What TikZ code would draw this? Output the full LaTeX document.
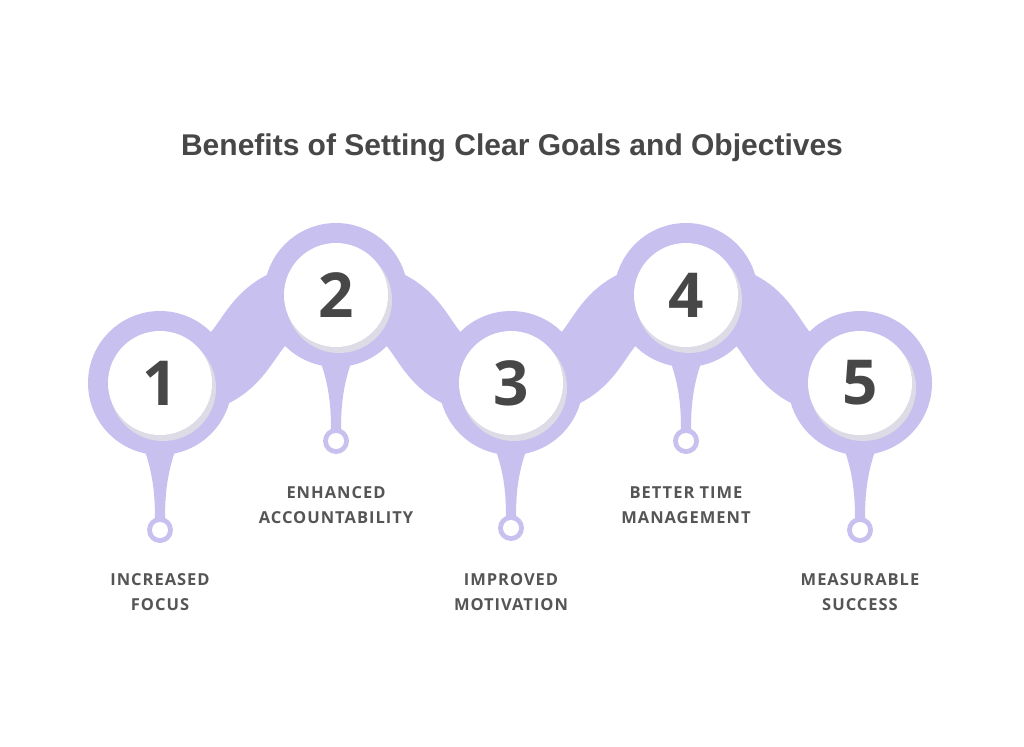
\documentclass[tikz,border=0pt]{standalone}
\usepackage{fontspec}
\setmainfont{Open Sans}[LetterSpace=6]
\newfontfamily\titlefont{Liberation Sans}
\begin{document}
\begin{tikzpicture}[x=1pt,y=-1pt,
  lbl/.style={text=labc,font=\fontsize{16.5}{25}\selectfont\bfseries,align=center,anchor=center},
  num/.style={text=numc,font=\fontsize{62}{62}\selectfont\bfseries}]
\definecolor{bandc}{HTML}{C8C1F0}
\definecolor{labc}{HTML}{555555}
\definecolor{numc}{HTML}{474747}
\useasboundingbox (0,0) rectangle (1024,746);
\fill[white] (0,0) rectangle (1024,746);
\node[text=numc,font=\titlefont\fontsize{30}{32}\selectfont\bfseries] (title) at (512,148) {Benefits of Setting Clear Goals and Objectives};
% band
\draw[bandc,line width=68] (160,383) .. controls (275,383) and (221,295) .. (336,295) .. controls (451,295) and (396,383) .. (511,383) .. controls (626,383) and (571,295) .. (686,295) .. controls (801,295) and (745,383) .. (860,383);
\newcommand{\step}[4]{%
  \fill[bandc] (#1-28,#2+40) .. controls (#1-5,#2+80) and (#1-5,#3-30) .. (#1-5,#3-8) -- (#1+5,#3-8) .. controls (#1+5,#3-30) and (#1+5,#2+80) .. (#1+28,#2+40) -- cycle;
  \fill[bandc] (#1,#3) circle (13);
  \fill[white] (#1,#3) circle (8);
  \fill[bandc] (#1,#2) circle (72);
  \fill[bandc!70!black!30] (#1+3,#2+5) circle (53);
  \node[circle,fill=white,minimum size=104,inner sep=0,num] (n#4) at (#1,#2) {#4};
}
\step{160}{383}{530}{1}
\step{336}{295}{441}{2}
\step{511}{383}{528}{3}
\step{686}{295}{441}{4}
\step{860}{383}{530}{5}
\node[lbl] (l1) at (160,592) {INCREASED\\FOCUS};
\node[lbl] (l2) at (336,505) {ENHANCED\\ACCOUNTABILITY};
\node[lbl] (l3) at (511,592) {IMPROVED\\MOTIVATION};
\node[lbl] (l4) at (686,505) {BETTER TIME\\MANAGEMENT};
\node[lbl] (l5) at (860,592) {MEASURABLE\\SUCCESS};
\end{tikzpicture}
\end{document}
